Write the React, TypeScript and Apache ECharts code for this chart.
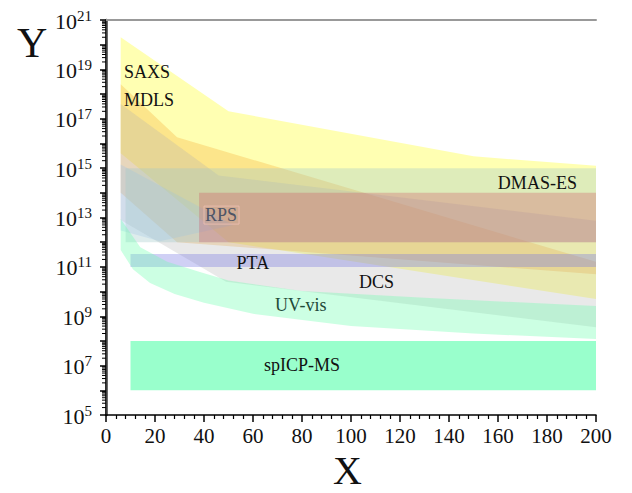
import React, { useEffect, useRef } from "react";
import * as echarts from "echarts";

// ---- data (x = size, y = concentration) ----
const saxs: [number, number][] = [
  [6, 2e20], [50, 2e17], [150, 3e15], [200, 1.25e15],
  [200, 5e9], [50, 1e12], [6, 4e15],
];
const mdls: [number, number][] = [
  [6, 2.5e18], [29, 1.8e16], [200, 1.6e11],
  [200, 5e10], [29, 1e12], [6, 1e14],
];
const dcs: [number, number][] = [
  [6, 4e17], [46, 5e14], [200, 7.4e12],
  [200, 3.6e8], [49, 2.5e10], [6, 8e12],
];
const paleBlue: [number, number][] = [
  [6, 1.4e15], [52, 5e12], [22, 1.1e12], [6, 3e12],
];
const uvvis: [number, number][] = [
  [6, 8.7e12], [14, 6.3e11], [25, 1.6e11], [38, 6.3e10], [50, 2.8e10],
  [80, 1.05e10], [130, 5.6e9], [200, 2.6e9],
  [200, 1.2e8], [150, 2e8], [100, 4e8], [60, 1.25e9], [40, 3.5e9],
  [28, 8e9], [18, 2.2e10], [11, 8e10], [6, 4.8e11],
];
const dmas: [number, number][] = [[8, 1e15], [200, 1e15], [200, 1e12], [8, 1e12]];
const rps: [number, number][] = [[38, 1e14], [200, 1e14], [200, 1e12], [38, 1e12]];
const pta: [number, number][] = [[10, 3.3e11], [200, 3.3e11], [200, 1e11], [10, 1e11]];
const spicpms: [number, number][] = [[10, 1e8], [200, 1e8], [200, 1e6], [10, 1e6]];

const techniqueNames = ["SAXS", "MDLS", "DCS", "UV-vis", "DMAS-ES", "RPS", "PTA", "spICP-MS"];
// label anchors [x, y]
const labelAnchors: [number, number][] = [
  [7.3, 8e18], [7.3, 5.8e17], [103.3, 2.35e10], [69, 2.9e9],
  [192.2, 2.6e14], [40, 1.25e13], [53.3, 1.45e11], [64.5, 1.1e7],
];

// y-axis minor tick positions (2..9 x 10^n)
const minorMantissas = [2, 3, 4, 5, 6, 7, 8, 9];
const minorDecades = [5, 6, 7, 8, 9, 10, 11, 12, 13, 14, 15, 16, 17, 18, 19, 20];
const yMinorTicks: number[] = [];
minorDecades.forEach((d) => minorMantissas.forEach((m) => yMinorTicks.push(m * Math.pow(10, d))));

const FONT = '"Liberation Serif", "DejaVu Serif", serif';

function polygonSeries(name: string, pts: [number, number][], fill: string, z: number) {
  return {
    type: "custom",
    name,
    coordinateSystem: "cartesian2d",
    xAxisIndex: 0,
    yAxisIndex: 0,
    silent: true,
    z,
    clip: true,
    data: pts,
    renderItem: (params: any, api: any) => {
      if (params.dataIndex !== 0) return null;
      return {
        type: "polygon",
        shape: { points: pts.map((p) => api.coord(p)) },
        style: { fill, stroke: null },
      };
    },
  };
}

export default function App() {
  const ref = useRef<HTMLDivElement>(null);
  useEffect(() => {
    if (!ref.current) return;
    const chart = echarts.init(ref.current, null, { renderer: "svg" });
    const labelColors: Record<string, string> = {
      "RPS": "#4e5566",
      "UV-vis": "#1f4a38",
    };
    const option: any = {
      animation: false,
      grid: { left: 106, top: 20, width: 490, height: 395, containLabel: false },
      xAxis: [
        {
          type: "value",
          min: 0,
          max: 200,
          interval: 20,
          axisLine: { show: true, onZero: false, lineStyle: { color: "#000", width: 1.5 } },
          axisTick: { show: true, length: 7, lineStyle: { color: "#000", width: 1.5 } },
          minorTick: { show: true, splitNumber: 5, length: 4, lineStyle: { color: "#000", width: 1.2 } },
          splitLine: { show: false },
          axisLabel: { fontFamily: FONT, fontSize: 21, color: "#111", margin: 10 },
        },
        {
          type: "value",
          position: "top",
          min: 0,
          max: 200,
          axisLine: { show: true, onZero: false, lineStyle: { color: "#999", width: 2 } },
          axisTick: { show: false },
          axisLabel: { show: false },
          splitLine: { show: false },
        },
      ],
      yAxis: [
        {
          type: "log",
          logBase: 10,
          min: 1e5,
          max: 1e21,
          interval: 1,
          axisLine: { show: true, lineStyle: { color: "#000", width: 2 } },
          axisTick: { show: true, length: 6, lineStyle: { color: "#000", width: 1.5 } },
          minorTick: { show: false },
          splitLine: { show: false },
          axisLabel: {
            margin: 14,
            formatter: (v: number) => {
              const e = Math.round(Math.log10(v));
              return e % 2 !== 0 ? `{b|10}{s|${e}}` : "";
            },
            rich: {
              b: { fontFamily: FONT, fontSize: 22, color: "#111", lineHeight: 24, verticalAlign: "bottom" },
              s: { fontFamily: FONT, fontSize: 15, color: "#111", lineHeight: 15, verticalAlign: "top" },
            },
          },
        },
        {
          type: "value",
          position: "right",
          min: 0,
          max: 1,
          axisLine: { show: true, lineStyle: { color: "#3a3a3a", width: 2.5 } },
          axisTick: { show: false },
          axisLabel: { show: false },
          splitLine: { show: false },
        },
      ],
      graphic: [
        { type: "text", left: 17, top: 22, style: { text: "Y", font: `42px ${FONT}`, fill: "#111" } },
        { type: "text", left: 333, top: 450, style: { text: "X", font: `40px ${FONT}`, fill: "#111" } },
      ],
      series: [
        polygonSeries("SAXS", saxs, "rgba(255,255,0,0.3)", 1),
        polygonSeries("MDLS", mdls, "rgba(245,170,50,0.3)", 2),
        polygonSeries("DCS", dcs, "rgba(175,175,175,0.28)", 3),
        polygonSeries("pale region", paleBlue, "rgba(150,190,240,0.28)", 3),
        polygonSeries("DMAS-ES", dmas, "rgba(160,200,200,0.35)", 4),
        polygonSeries("RPS", rps, "rgba(205,75,95,0.3)", 5),
        polygonSeries("PTA", pta, "rgba(120,120,225,0.35)", 6),
        polygonSeries("UV-vis", uvvis, "rgba(110,255,175,0.35)", 7),
        polygonSeries("spICP-MS", spicpms, "rgba(0,255,128,0.4)", 8),
        {
          type: "custom",
          name: "y minor ticks",
          coordinateSystem: "cartesian2d",
          silent: true,
          clip: false,
          z: 12,
          data: yMinorTicks,
          encode: { y: 0 },
          renderItem: (params: any, api: any) => {
            const v = yMinorTicks[params.dataIndex];
            const c = api.coord([0, v]);
            return {
              type: "line",
              shape: { x1: c[0] - 4, y1: c[1], x2: c[0], y2: c[1] },
              style: { stroke: "#000", lineWidth: 1 },
            };
          },
        },
        {
          type: "custom",
          name: "labels",
          coordinateSystem: "cartesian2d",
          silent: true,
          z: 10,
          data: labelAnchors,
          renderItem: (params: any, api: any) => {
            const i = params.dataIndex;
            const name = techniqueNames[i];
            const c = api.coord(labelAnchors[i]);
            const isRight = name === "DMAS-ES";
            const style: any = {
              text: name,
              fill: labelColors[name] || "#111",
              fontFamily: FONT,
              fontSize: 18,
              align: isRight ? "right" : "left",
              verticalAlign: "middle",
            };
            if (name === "RPS") {
              style.borderColor = "rgba(235,190,175,0.9)";
              style.borderWidth = 1;
              style.padding = [0, 2, 0, 1];
            }
            return { type: "text", x: c[0], y: c[1], style };
          },
        },
      ],
    };
    chart.setOption(option);
    return () => chart.dispose();
  }, []);
  return (
    <div
      ref={ref}
      style={{ position: "fixed", left: 0, top: 0, width: 632, height: 493, background: "#fff" }}
    />
  );
}
